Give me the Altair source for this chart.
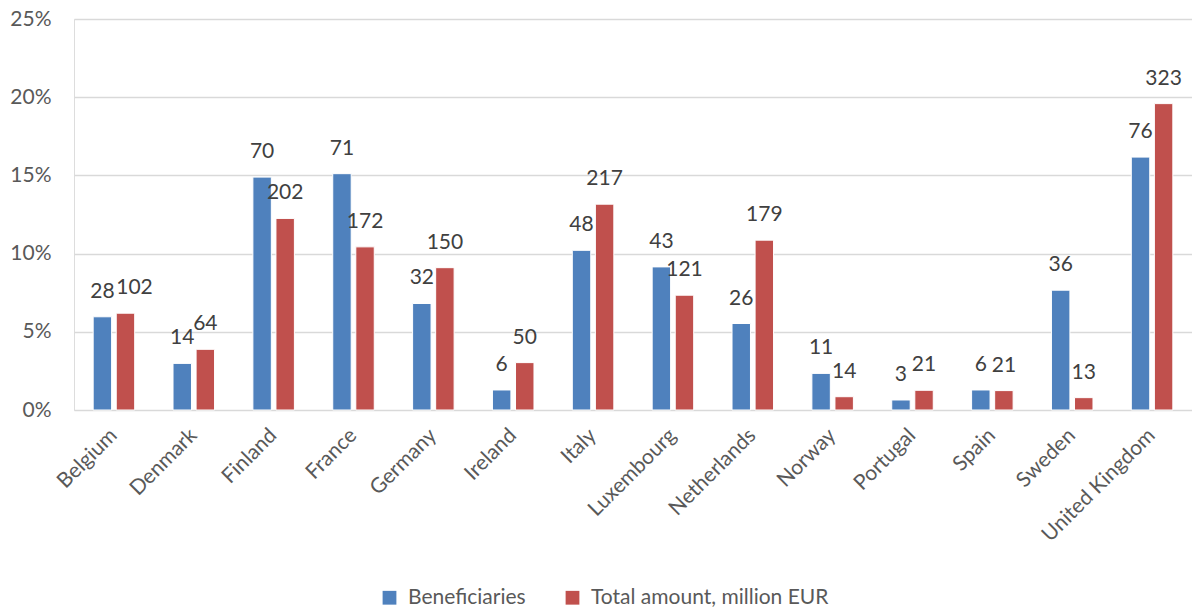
import altair as alt
import pandas as pd

countries = ["Belgium", "Denmark", "Finland", "France", "Germany", "Ireland", "Italy",
             "Luxembourg", "Netherlands", "Norway", "Portugal", "Spain", "Sweden", "United Kingdom"]
series = ["Beneficiaries", "Total amount, million EUR"]
# share of total (percent)
benef_pct = [5.96, 2.98, 14.89, 15.11, 6.81, 1.28, 10.21, 9.15, 5.53, 2.34, 0.64, 1.28, 7.66, 16.17]
amount_pct = [6.19, 3.88, 12.25, 10.43, 9.10, 3.03, 13.16, 7.34, 10.86, 0.85, 1.26, 1.24, 0.79, 19.59]
# data labels shown above the bars
benef_lbl = [28, 14, 70, 71, 32, 6, 48, 43, 26, 11, 3, 6, 36, 76]
amount_lbl = [102, 64, 202, 172, 150, 50, 217, 121, 179, 14, 21, 21, 13, 323]
colors = ["#4F81BD", "#C0504D"]
y_ticks = [0, 0.05, 0.10, 0.15, 0.20, 0.25]

rows = []
for i, c in enumerate(countries):
    rows.append({"country": c, "series": series[0], "value": benef_pct[i] / 100, "label": str(benef_lbl[i])})
    rows.append({"country": c, "series": series[1], "value": amount_pct[i] / 100, "label": str(amount_lbl[i])})
df = pd.DataFrame(rows)

FONT = "Lato"

x = alt.X("country:N", sort=countries,
          scale=alt.Scale(paddingInner=0.48, paddingOuter=0.24),
          axis=alt.Axis(title=None, labelAngle=-45, labelAlign="right", labelBaseline="middle",
                        ticks=False, domain=False, labelFontSize=21, labelColor="#595959",
                        labelFont=FONT, labelPadding=22, labelLimit=300))
xo = alt.XOffset("series:N", sort=series, scale=alt.Scale(paddingInner=0.2, paddingOuter=0))
y = alt.Y("value:Q", scale=alt.Scale(domain=[0, 0.25], nice=False),
          axis=alt.Axis(title=None, format=".0%", values=y_ticks, ticks=False, domain=False,
                        labelFontSize=21, labelColor="#595959", labelFont=FONT, labelPadding=23,
                        gridColor="#D9D9D9", gridWidth=1.5))
color = alt.Color("series:N", sort=series, scale=alt.Scale(domain=series, range=colors),
                  legend=alt.Legend(title=None, orient="none", direction="horizontal",
                                    legendX=305, legendY=568, symbolType="square", symbolSize=190,
                                    symbolStrokeWidth=0, labelFontSize=21, labelFont=FONT,
                                    labelColor="#595959", columnPadding=36, symbolOffset=0,
                                    labelOffset=8, labelLimit=0))

bars = alt.Chart(df).mark_bar(stroke="white", strokeWidth=1).encode(x=x, xOffset=xo, y=y, color=color)

text_enc = dict(x=alt.X("country:N", sort=countries), xOffset=alt.XOffset("series:N", sort=series),
                y="value:Q", text="label:N")
is_nudged = (alt.datum.country == "Belgium") & (alt.datum.series == series[1])
text_main = alt.Chart(df).transform_filter(~is_nudged).mark_text(
    dy=-25, baseline="middle", fontSize=21, font=FONT, color="#404040").encode(**text_enc)
text_nudged = alt.Chart(df).transform_filter(is_nudged).mark_text(
    dy=-25, dx=9, baseline="middle", fontSize=21, font=FONT, color="#404040").encode(**text_enc)

chart = alt.layer(bars, text_main, text_nudged).properties(
    width=1118, height=391,
    autosize=alt.AutoSizeParams(type="none"),
    padding={"left": 74, "top": 19, "right": 0, "bottom": 201},
).configure_view(stroke=None).configure(background="white")

chart.save("out.html", embed_options={"renderer": "svg", "actions": False})
